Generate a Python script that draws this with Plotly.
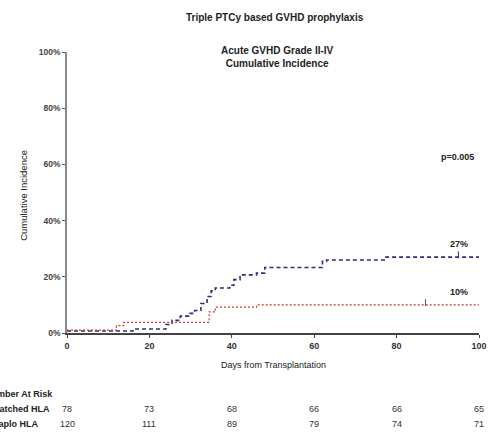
import plotly.graph_objects as go

# Cumulative incidence step curves (day, percent)
matched_days = [0, 16, 24, 25.5, 27.5, 29.5, 31, 32.5, 34, 35, 36, 39.5, 40.5, 42, 46, 48, 62, 63, 77, 100]
matched_ci = [0.7, 1.4, 3.0, 4.5, 6.0, 7.0, 8.0, 10.5, 13.0, 15.0, 16.0, 17.0, 19.0, 20.7, 21.3, 23.3, 25.5, 26.0, 27.0, 27.0]

haplo_days = [0, 12, 13.7, 34.5, 36, 46, 100]
haplo_ci = [1.0, 2.6, 3.8, 7.5, 9.2, 10.0, 10.0]

# Censoring marks
matched_cens_days = [95]
matched_cens_ci = [27.0]
haplo_cens_days = [87]
haplo_cens_ci = [10.0]

# Number at risk table
risk_days = [0, 20, 40, 60, 80, 100]
risk_matched = [78, 73, 68, 66, 66, 65]
risk_haplo = [120, 111, 89, 79, 74, 71]

tick_days = [0, 20, 40, 60, 80, 100]
tick_pct = [0, 20, 40, 60, 80, 100]

final_matched = matched_ci[-1]
final_haplo = haplo_ci[-1]

FONT = "Arial, Liberation Sans, sans-serif"
BLUE = "#2e2f7c"
RED = "#c43a36"

fig = go.Figure()

fig.add_trace(go.Scatter(
    x=matched_days, y=matched_ci, mode="lines", line_shape="hv",
    line=dict(color=BLUE, width=1.6, dash="4px,3px"), showlegend=False,
    name="Matched HLA"))
fig.add_trace(go.Scatter(
    x=haplo_days, y=haplo_ci, mode="lines", line_shape="hv",
    line=dict(color=RED, width=1.2, dash="2px,2px"), showlegend=False,
    name="Haplo HLA"))
fig.add_trace(go.Scatter(
    x=matched_cens_days, y=[v + 0.8 for v in matched_cens_ci], mode="markers",
    marker=dict(symbol="line-ns", size=5, line=dict(color=BLUE, width=1)),
    showlegend=False))
fig.add_trace(go.Scatter(
    x=haplo_cens_days, y=[v + 0.8 for v in haplo_cens_ci], mode="markers",
    marker=dict(symbol="line-ns", size=5, line=dict(color="#555555", width=1)),
    showlegend=False))

L, T, W, H = 67, 52, 420, 281


def px_x(p):
    return (p - L) / W


def px_y(p):
    return (T + H - p) / H


annotations = [
    dict(text="<b>Triple PTCy based GVHD prophylaxis</b>", x=px_x(279), y=px_y(17),
         font=dict(size=10)),
    dict(text="<b>Acute GVHD Grade II-IV<br>Cumulative Incidence</b>", x=px_x(282), y=px_y(56.5),
         font=dict(size=10)),
    dict(text="<b>p=0.005</b>", x=px_x(484), y=px_y(157), xanchor="right", font=dict(size=9)),
    dict(text="Days from Transplantation", x=px_x(277), y=px_y(365), font=dict(size=9)),
    dict(text="Cumulative Incidence", x=px_x(22), y=px_y(195), textangle=-90, font=dict(size=9.5)),
    dict(text="<b>Number At Risk</b>", x=px_x(55), y=px_y(394), xanchor="right", font=dict(size=9)),
    dict(text="<b>Matched HLA</b>", x=px_x(52), y=px_y(409), xanchor="right", font=dict(size=9)),
    dict(text="<b>Haplo HLA</b>", x=px_x(39), y=px_y(424), xanchor="right", font=dict(size=9)),
]
for a in annotations:
    a.update(xref="paper", yref="paper", showarrow=False, yanchor="middle")
    a.setdefault("xanchor", "center")
    a["font"].update(family=FONT, color="#222222")

# Final value labels
annotations.append(dict(text=f"<b>{final_matched:.0f}%</b>", x=95.2, y=final_matched + 4.7,
                        xref="x", yref="y", showarrow=False, yanchor="middle",
                        font=dict(family=FONT, size=9, color="#222222")))
annotations.append(dict(text=f"<b>{final_haplo:.0f}%</b>", x=95.2, y=final_haplo + 4.6,
                        xref="x", yref="y", showarrow=False, yanchor="middle",
                        font=dict(family=FONT, size=9, color="#222222")))

for d, m, h in zip(risk_days, risk_matched, risk_haplo):
    for val, py in ((m, 409), (h, 424)):
        annotations.append(dict(text=str(val), x=d, y=px_y(py), xref="x", yref="paper",
                                showarrow=False, yanchor="middle",
                                font=dict(family=FONT, size=9, color="#333333")))

fig.update_layout(
    width=495, height=443,
    margin=dict(l=L, r=495 - L - W, t=T, b=443 - T - H),
    paper_bgcolor="white", plot_bgcolor="white",
    annotations=annotations,
    font=dict(family=FONT, color="#222222"),
)

fig.update_xaxes(
    range=[0, 100], tickvals=tick_days,
    ticktext=[f"<b>{d}</b>" for d in tick_days],
    tickfont=dict(size=9, family=FONT, color="#333333"),
    showgrid=False, zeroline=False, showline=True, linecolor="#444444", linewidth=1.5,
    ticks="outside", ticklen=3, tickcolor="#444444", tickwidth=1.2,
)
fig.update_yaxes(
    range=[0, 100], tickvals=tick_pct,
    ticktext=[f"<b>{p}%</b>" for p in tick_pct],
    tickfont=dict(size=8.5, family=FONT, color="#444444"),
    showgrid=False, zeroline=False, showline=True, linecolor="#888888", linewidth=1.5,
    ticks="outside", ticklen=3, tickcolor="#555555", tickwidth=1.2,
)

fig.write_html("out.html")
